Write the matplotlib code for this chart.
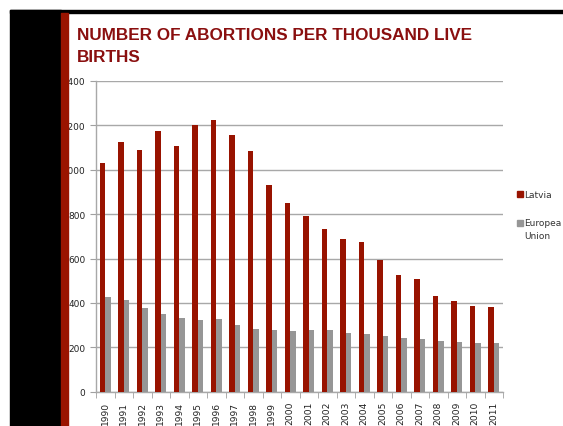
import matplotlib
matplotlib.use("Agg")
import matplotlib.pyplot as plt
from matplotlib.patches import Rectangle
import numpy as np

years = [str(y) for y in range(1990, 2012)]
latvia = [1029, 1123, 1089, 1173, 1105, 1203, 1224, 1158, 1086, 931, 851,
          793, 731, 688, 673, 592, 527, 506, 432, 407, 385, 382]
eu = [427, 414, 377, 349, 332, 324, 326, 299, 284, 278, 272,
      277, 277, 264, 260, 250, 243, 239, 228, 222, 218, 219]
yticks = [0, 200, 400, 600, 800, 1000, 1200, 1400]
ylabels = ["0", "200", "400", "600", "800", "1,000", "1,200", "1,400"]

RED = "#981300"
GRAY = "#969696"
TITLE = "#8A0F0F"

fig = plt.figure(figsize=(5.63, 4.27), dpi=100)
ax = fig.add_axes([96/563, 1-392.7/427, (503-96)/563, (392.7-82)/427])

x = np.arange(len(years))
w = 0.29
ax.bar(x - 0.145, latvia, width=w, color=RED, label="Latvia", zorder=3)
ax.bar(x + 0.145, eu, width=w, color=GRAY, label="Europea\nUnion", zorder=3)

ax.set_xlim(-0.5, len(years) - 0.5)
ax.set_ylim(0, 1400)
ax.set_yticks(yticks)
ax.set_yticklabels(ylabels, fontsize=6.5, color="#222222")
ax.set_xticks(x)
ax.set_xticklabels(years, rotation=90, fontsize=6.6, color="#222222")
ax.set_xticks(np.arange(-0.5, len(years)), minor=True)
ax.tick_params(axis="x", which="major", length=0, pad=6.5)
ax.tick_params(axis="x", which="minor", length=4, color="#A0A0A0", direction="out")
ax.tick_params(axis="y", length=4, color="#A0A0A0", direction="out", pad=3.5)
ax.grid(axis="y", color="#A8A8A8", linewidth=1.0, zorder=0)
ax.set_axisbelow(True)
for s in ["top", "right"]:
    ax.spines[s].set_visible(False)
for s in ["left", "bottom"]:
    ax.spines[s].set_color("#A8A8A8")
    ax.spines[s].set_linewidth(1.0)

# legend drawn manually as figure text
fig.add_artist(Rectangle((517/563, 1-198/427), 6/563, 6/427, transform=fig.transFigure,
                         color=RED, zorder=6))
fig.text(524/563, 1-195/427, "Latvia", fontsize=6.5, color="#333333", va="center", ha="left")
fig.add_artist(Rectangle((517/563, 1-227/427), 6/563, 6/427, transform=fig.transFigure,
                         color=GRAY, zorder=6))
fig.text(524/563, 1-224/427, "Europea", fontsize=6.5, color="#333333", va="center", ha="left")
fig.text(524/563, 1-237/427, "Union", fontsize=6.5, color="#333333", va="center", ha="left")

# frame decorations
fig.add_artist(Rectangle((10/563, 1-13.5/427), (563-10)/563, 2.5/427, transform=fig.transFigure,
                         color="black", zorder=10))
fig.add_artist(Rectangle((10/563, 0), 51/563, (427-11)/427, transform=fig.transFigure,
                         color="black", zorder=10))
fig.add_artist(Rectangle((61/563, 0), 7/563, (427-13.5)/427, transform=fig.transFigure,
                         color="#9A1400", zorder=11))

fig.text(77/563, 1-35/427, "NUMBER OF ABORTIONS PER THOUSAND LIVE", fontsize=12.3,
         fontweight="bold", family="Liberation Sans", color=TITLE, va="center", ha="left")
fig.text(77/563, 1-58/427, "BIRTHS", fontsize=12.3,
         fontweight="bold", family="Liberation Sans", color=TITLE, va="center", ha="left")

fig.savefig("out.png", dpi=100)
